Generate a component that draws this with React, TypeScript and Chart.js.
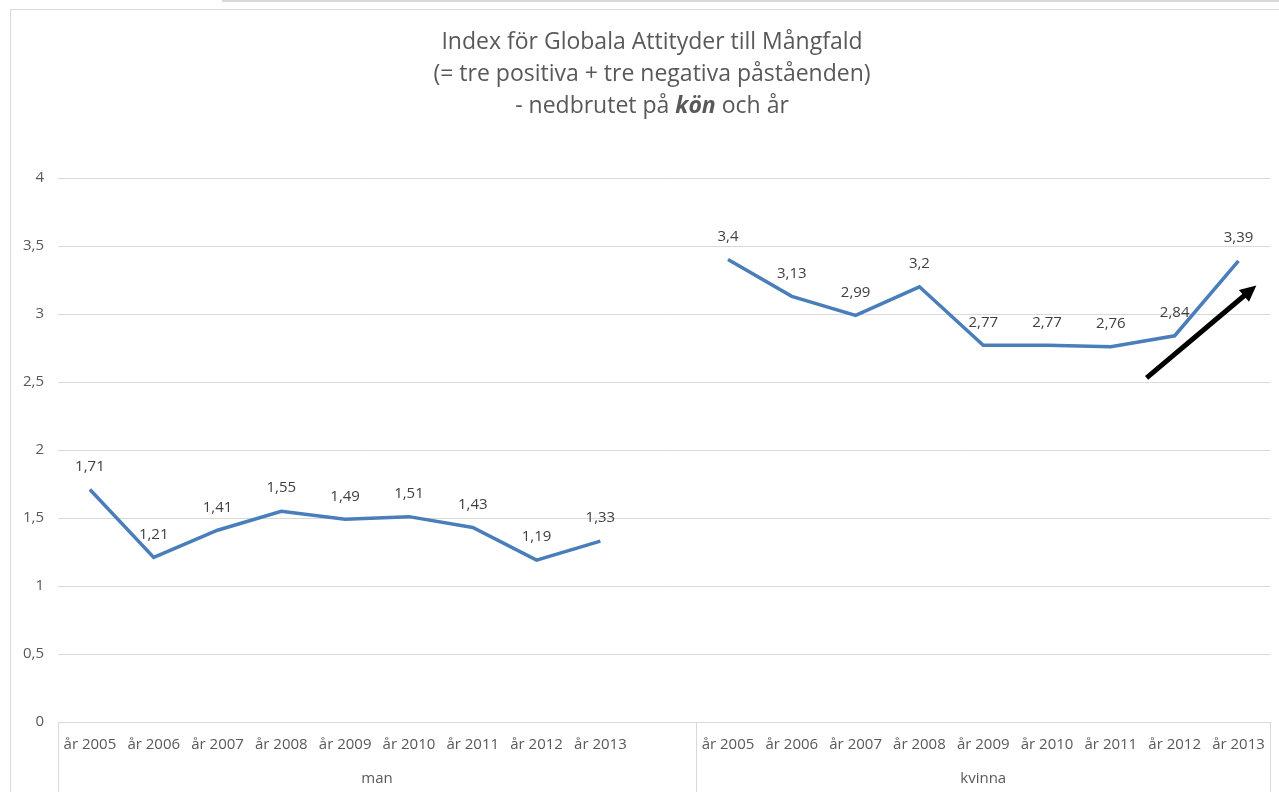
import React, { useEffect, useRef } from "react";
import { Chart, registerables } from "chart.js";

Chart.register(...registerables);

const YEARS = ["år 2005", "år 2006", "år 2007", "år 2008", "år 2009", "år 2010", "år 2011", "år 2012", "år 2013"];
const CATEGORIES = [...YEARS, "", ...YEARS];
const MAN_VALUES = [1.71, 1.21, 1.41, 1.55, 1.49, 1.51, 1.43, 1.19, 1.33];
const KVINNA_VALUES = [3.4, 3.13, 2.99, 3.2, 2.77, 2.77, 2.76, 2.84, 3.39];
const SERIES = [...MAN_VALUES, null, ...KVINNA_VALUES];
const GROUPS = [
  { label: "man", from: 0, to: 9 },
  { label: "kvinna", from: 10, to: 18 },
];
const TITLE_LINES = ["Index för Globala Attityder till Mångfald", "(= tre positiva + tre negativa påståenden)"];
const TITLE_LINE3 = [
  { text: "- nedbrutet på ", bold: false },
  { text: "kön", bold: true },
  { text: " och år", bold: false },
];
// arrow annotation in data space: [category index, value]
const ARROW_FROM = [16.56, 2.53];
const ARROW_TO = [18.28, 3.21];

const FONT = "'Open Sans', 'Liberation Sans', Arial, sans-serif";
const TEXT = "#595959";
const GRID = "#d9d9d9";
const LINE = "#4a7ebb";
const TITLE_SIZE = 23;
const LABEL_SIZE = 15;

const fmt = (v: number) => String(v).replace(".", ",");

const titlePlugin = {
  id: "titlePlugin",
  afterDraw(chart: any) {
    const ctx = chart.ctx;
    const cx = 652;
    ctx.save();
    ctx.fillStyle = TEXT;
    ctx.textBaseline = "middle";
    ctx.textAlign = "center";
    ctx.font = `${TITLE_SIZE}px ${FONT}`;
    ctx.fillText(TITLE_LINES[0], cx, 42);
    ctx.fillText(TITLE_LINES[1], cx, 74);
    ctx.textAlign = "left";
    const fonts = TITLE_LINE3.map((p) =>
      p.bold ? `italic bold ${TITLE_SIZE}px ${FONT}` : `${TITLE_SIZE}px ${FONT}`
    );
    let total = 0;
    const widths = TITLE_LINE3.map((p, i) => {
      ctx.font = fonts[i];
      const w = ctx.measureText(p.text).width;
      total += w;
      return w;
    });
    let x = cx - total / 2;
    TITLE_LINE3.forEach((p, i) => {
      ctx.font = fonts[i];
      ctx.fillText(p.text, x, 106);
      x += widths[i];
    });
    ctx.restore();
  },
};

const extrasPlugin = {
  id: "extrasPlugin",
  afterDatasetsDraw(chart: any) {
    const ctx = chart.ctx;
    const xs = chart.scales.x;
    const ys = chart.scales.y;
    const area = chart.chartArea;
    ctx.save();
    // data labels
    ctx.font = `${LABEL_SIZE}px ${FONT}`;
    ctx.fillStyle = "#404040";
    ctx.textAlign = "center";
    ctx.textBaseline = "middle";
    SERIES.forEach((v, i) => {
      if (v == null) return;
      ctx.fillText(fmt(v), xs.getPixelForValue(i), ys.getPixelForValue(v) - 23);
    });
    // group separators + labels
    const bottom = chart.height;
    const bounds = [area.left];
    GROUPS.forEach((g, gi) => {
      const right =
        gi === GROUPS.length - 1
          ? area.right
          : (xs.getPixelForValue(g.to) + xs.getPixelForValue(GROUPS[gi + 1].from)) / 2;
      bounds.push(right);
    });
    ctx.strokeStyle = GRID;
    ctx.lineWidth = 1;
    bounds.forEach((b) => {
      const bx = Math.round(b) + 0.5;
      ctx.beginPath();
      ctx.moveTo(bx, area.bottom);
      ctx.lineTo(bx, bottom);
      ctx.stroke();
    });
    ctx.fillStyle = TEXT;
    ctx.font = `${LABEL_SIZE}px ${FONT}`;
    GROUPS.forEach((g, gi) => {
      ctx.fillText(g.label, (bounds[gi] + bounds[gi + 1]) / 2, 779);
    });
    // arrow
    const x1 = xs.getPixelForValue(ARROW_FROM[0]);
    const y1 = ys.getPixelForValue(ARROW_FROM[1]);
    const x2 = xs.getPixelForValue(ARROW_TO[0]);
    const y2 = ys.getPixelForValue(ARROW_TO[1]);
    const ang = Math.atan2(y2 - y1, x2 - x1);
    const head = 18;
    const hx = x2 - Math.cos(ang) * head * 0.8;
    const hy = y2 - Math.sin(ang) * head * 0.8;
    ctx.strokeStyle = "#000";
    ctx.lineWidth = 5;
    ctx.beginPath();
    ctx.moveTo(x1, y1);
    ctx.lineTo(hx, hy);
    ctx.stroke();
    ctx.fillStyle = "#000";
    ctx.beginPath();
    ctx.moveTo(x2, y2);
    ctx.lineTo(x2 - Math.cos(ang - 0.45) * head, y2 - Math.sin(ang - 0.45) * head);
    ctx.lineTo(x2 - Math.cos(ang + 0.45) * head, y2 - Math.sin(ang + 0.45) * head);
    ctx.closePath();
    ctx.fill();
    ctx.restore();
  },
};

export default function App() {
  const ref = useRef<HTMLCanvasElement>(null);
  useEffect(() => {
    if (!ref.current) return;
    const chart = new Chart(ref.current, {
      type: "line",
      data: {
        labels: CATEGORIES,
        datasets: [
          {
            data: SERIES,
            borderColor: LINE,
            borderWidth: 3.5,
            pointRadius: 0,
            tension: 0,
            spanGaps: false,
            fill: false,
          },
        ],
      },
      options: {
        animation: false,
        responsive: false,
        maintainAspectRatio: false,
        layout: { padding: { top: 178, right: 7, left: 0, bottom: 0 } },
        plugins: { legend: { display: false }, title: { display: false }, tooltip: { enabled: false } },
        scales: {
          x: {
            type: "category",
            offset: true,
            grid: { display: false, drawTicks: false },
            border: { display: true, color: GRID, width: 1 },
            ticks: {
              color: TEXT,
              font: { family: FONT, size: LABEL_SIZE },
              padding: 14,
              maxRotation: 0,
              autoSkip: false,
            },
            afterFit: (s: any) => {
              s.height = 70;
            },
          },
          y: {
            min: 0,
            max: 4,
            grid: { color: GRID, drawTicks: false },
            border: { display: false },
            ticks: {
              stepSize: 0.5,
              color: TEXT,
              font: { family: FONT, size: LABEL_SIZE },
              padding: 14,
              callback: (v: any) => fmt(Number(v)),
            },
            afterFit: (s: any) => {
              s.width = 58;
            },
          },
        },
      },
      plugins: [titlePlugin, extrasPlugin],
    });
    return () => chart.destroy();
  }, []);
  return (
    <div style={{ position: "fixed", left: 0, top: 0, width: 1279, height: 792, background: "#fff" }}>
      <div style={{ position: "absolute", left: 222, top: 0, right: 0, height: 2, background: GRID }} />
      <div
        style={{
          position: "absolute",
          left: 10,
          top: 9,
          right: 0,
          bottom: 0,
          borderLeft: `1px solid ${GRID}`,
          borderTop: `1px solid ${GRID}`,
        }}
      />
      <canvas ref={ref} width={1279} height={792} style={{ position: "absolute", left: 0, top: 0 }} />
    </div>
  );
}
